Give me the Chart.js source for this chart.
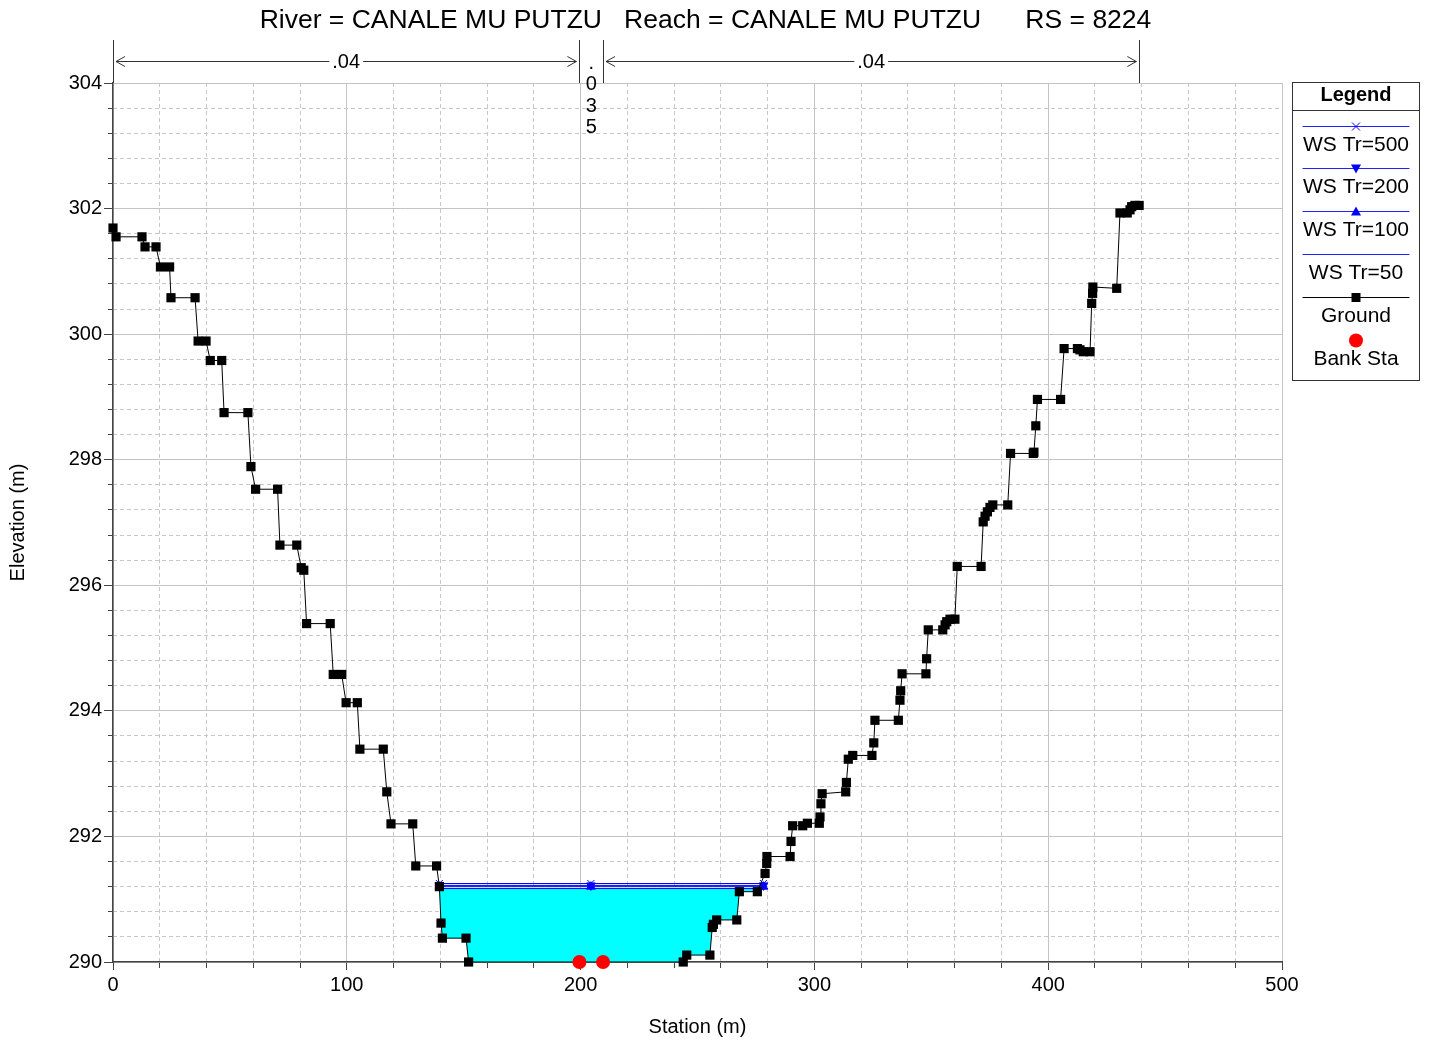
<!DOCTYPE html>
<html lang="en">
<head>
  <meta charset="UTF-8">
  <title>Cross Section RS 8224</title>
  <script src="https://cdn.jsdelivr.net/npm/chart.js"></script>
  <style>
    html, body { margin: 0; padding: 0; background: #fff; }
    .chart-container { width: 1430px; height: 1040px; position: relative; }
  </style>
</head>
<body>
  <div class="chart-container">
    <canvas id="xsChart"></canvas>
  </div>
  <script>
    const titleText = 'River = CANALE MU PUTZU   Reach = CANALE MU PUTZU      RS = 8224';

    // ground profile (station m, elevation m)
    const groundStation = [
      0, 1.3, 12.4, 13.7, 18.4, 20.3, 24.2, 24.8, 35.1, 36.4, 39.8, 41.6, 46.5, 47.5, 57.7,
      59.0, 61.0, 70.4, 71.4, 78.6, 80.5, 81.6, 82.8, 92.9, 94.2, 97.8, 99.7, 104.5, 105.6, 115.6,
      117.1, 118.9, 128.2, 129.5, 138.4, 139.6, 140.3, 140.9, 151.0, 152.1, 243.9, 245.4, 255.3, 256.3, 256.8,
      258.2, 266.8, 267.9, 275.6, 278.9, 279.6, 279.7, 289.6, 290.0, 290.7, 295.0, 297.0, 302.1, 302.4, 302.8,
      303.3, 313.4, 313.7, 314.5, 316.4, 324.6, 325.4, 325.9, 335.9, 336.6, 336.9, 337.5, 347.7, 348.0, 348.7,
      354.9, 355.9, 356.6, 358.0, 360.1, 361.1, 371.3, 372.2, 373.0, 374.0, 375.1, 376.3, 382.7, 383.9, 393.6,
      393.9, 394.7, 395.4, 405.3, 406.8, 412.5, 413.6, 415.0, 417.9, 418.6, 419.0, 419.1, 429.3, 430.7, 433.8,
      435.0, 435.7, 437.1, 438.9
    ];
    const groundElevation = [
      301.69, 301.55, 301.55, 301.39, 301.39, 301.07, 301.07, 300.58, 300.58, 299.89, 299.89, 299.58, 299.58, 298.75, 298.75,
      297.89, 297.53, 297.53, 296.64, 296.64, 296.28, 296.24, 295.39, 295.39, 294.58, 294.58, 294.13, 294.13, 293.39, 293.39,
      292.71, 292.20, 292.20, 291.53, 291.53, 291.20, 290.62, 290.38, 290.38, 290.00, 290.00, 290.11, 290.11, 290.55, 290.60,
      290.67, 290.67, 291.12, 291.12, 291.41, 291.57, 291.68, 291.68, 291.92, 292.17, 292.17, 292.21, 292.21, 292.31, 292.52,
      292.68, 292.71, 292.86, 293.23, 293.29, 293.29, 293.49, 293.85, 293.85, 294.17, 294.32, 294.59, 294.59, 294.83, 295.29,
      295.29, 295.37, 295.42, 295.46, 295.46, 296.30, 296.30, 297.01, 297.10, 297.17, 297.24, 297.28, 297.28, 298.10, 298.10,
      298.12, 298.54, 298.96, 298.96, 299.77, 299.77, 299.75, 299.72, 299.72, 300.49, 300.65, 300.75, 300.73, 301.93, 301.93,
      301.98, 302.03, 302.05, 302.05
    ];

    // water surfaces
    const wsLabels = ['WS Tr=500', 'WS Tr=200', 'WS Tr=100', 'WS Tr=50'];
    const wsElevation = [291.25, 291.22, 291.20, 291.17];
    const wsStation = [139.6, 204.4, 278.2];

    // bank stations
    const bankStation = [199.5, 209.6];
    const bankElevation = [290.0, 290.0];

    // Manning's n breaks along the section
    const nStation = [0, 199.5, 209.6, 439.0];
    const nValue = ['.04', '.035', '.04'];

    const FONT = "'Liberation Sans', Arial, Helvetica, sans-serif";
    Chart.defaults.font.family = FONT;
    Chart.defaults.color = '#000';

    const ground = groundStation.map((s, i) => ({ x: s, y: groundElevation[i] }));

    // wetted area: water edge -> ground below WS Tr=50 -> water edge
    const wsLow = wsElevation[3];
    const water = [{ x: wsStation[0], y: wsLow }];
    groundStation.forEach((s, i) => {
      if (s > wsStation[0] && s < wsStation[2] && groundElevation[i] < wsLow) {
        water.push({ x: s, y: groundElevation[i] });
      }
    });
    water.push({ x: wsStation[2], y: wsLow });

    const wsStyles = [
      { pointStyle: 'crossRot', radius: 5, rotation: 0 },
      { pointStyle: 'triangle', radius: 5, rotation: 180 },
      { pointStyle: 'triangle', radius: 5, rotation: 0 },
      { pointStyle: false, radius: 0, rotation: 0 }
    ];

    const wsDatasets = wsLabels.map((label, k) => ({
      label: label,
      data: wsStation.map(s => ({ x: s, y: wsElevation[k] })),
      borderColor: '#0000ff',
      backgroundColor: '#0000ff',
      borderWidth: 1,
      pointStyle: wsStyles[k].pointStyle,
      pointRadius: wsStyles[k].radius,
      pointRotation: wsStyles[k].rotation,
      pointBorderColor: '#0000ff',
      pointBackgroundColor: '#0000ff',
      pointBorderWidth: 1,
      clip: false,
      order: 2 + k
    }));

    function isMultiple(v, step) {
      const r = v / step;
      return Math.abs(r - Math.round(r)) < 1e-6;
    }

    function drawMarker(ctx, kind, cx, cy) {
      ctx.save();
      ctx.beginPath();
      if (kind === 'cross') {
        ctx.strokeStyle = '#0000ff';
        ctx.moveTo(cx - 4, cy - 4); ctx.lineTo(cx + 4, cy + 4);
        ctx.moveTo(cx + 4, cy - 4); ctx.lineTo(cx - 4, cy + 4);
        ctx.stroke();
      } else if (kind === 'down') {
        ctx.fillStyle = '#0000ff';
        ctx.moveTo(cx - 5, cy - 4); ctx.lineTo(cx + 5, cy - 4); ctx.lineTo(cx, cy + 5);
        ctx.closePath(); ctx.fill();
      } else if (kind === 'up') {
        ctx.fillStyle = '#0000ff';
        ctx.moveTo(cx - 5, cy + 4); ctx.lineTo(cx + 5, cy + 4); ctx.lineTo(cx, cy - 5);
        ctx.closePath(); ctx.fill();
      } else if (kind === 'square') {
        ctx.fillStyle = '#000';
        ctx.fillRect(cx - 4.5, cy - 4.5, 9, 9);
      } else if (kind === 'circle') {
        ctx.fillStyle = '#ff0000';
        ctx.arc(cx, cy, 7, 0, Math.PI * 2);
        ctx.fill();
      }
      ctx.restore();
    }

    const decorations = {
      id: 'decorations',
      afterDraw(chart) {
        const { ctx, chartArea: a } = chart;
        const x = chart.scales.x;
        ctx.save();

        // title
        ctx.fillStyle = '#000';
        ctx.font = '26.5px ' + FONT;
        ctx.textAlign = 'center';
        ctx.textBaseline = 'middle';
        ctx.fillText(titleText, (a.left + a.right) / 2 + 8, 21);

        // Manning's n bands above the plot
        const topY = 40, arrowY = 61.5;
        ctx.strokeStyle = '#333';
        ctx.lineWidth = 1;
        nStation.forEach(s => {
          const px = Math.round(x.getPixelForValue(s)) + 0.5;
          ctx.beginPath(); ctx.moveTo(px, topY); ctx.lineTo(px, a.top); ctx.stroke();
        });
        ctx.font = '20px ' + FONT;
        for (let i = 0; i < nValue.length; i++) {
          const x0 = x.getPixelForValue(nStation[i]) + 3;
          const x1 = x.getPixelForValue(nStation[i + 1]) - 3;
          const w = ctx.measureText(nValue[i]).width;
          const mid = (x0 + x1) / 2;
          if (x1 - x0 > w + 40) {
            ctx.beginPath();
            ctx.moveTo(x0, arrowY); ctx.lineTo(mid - w / 2 - 3, arrowY);
            ctx.moveTo(mid + w / 2 + 3, arrowY); ctx.lineTo(x1, arrowY);
            ctx.moveTo(x0 + 9, arrowY - 5); ctx.lineTo(x0, arrowY); ctx.lineTo(x0 + 9, arrowY + 5);
            ctx.moveTo(x1 - 9, arrowY - 5); ctx.lineTo(x1, arrowY); ctx.lineTo(x1 - 9, arrowY + 5);
            ctx.stroke();
            ctx.fillText(nValue[i], mid, arrowY + 1);
          } else {
            const chars = nValue[i].split('');
            chars.forEach((c, j) => ctx.fillText(c, mid, 63 + j * 21.5));
          }
        }

        // legend box
        const bx = a.right + 10.5, by = 82.5, bw = 127, bh = 298;
        const cx = bx + bw / 2;
        ctx.fillStyle = '#fff';
        ctx.fillRect(bx, by, bw, bh);
        ctx.strokeStyle = '#333';
        ctx.strokeRect(bx, by, bw, bh);
        ctx.beginPath(); ctx.moveTo(bx, by + 28); ctx.lineTo(bx + bw, by + 28); ctx.stroke();
        ctx.fillStyle = '#000';
        ctx.font = 'bold 20px ' + FONT;
        ctx.fillText('Legend', cx, by + 13);

        const items = [
          { label: wsLabels[0], color: '#2020ff', marker: 'cross' },
          { label: wsLabels[1], color: '#2020ff', marker: 'down' },
          { label: wsLabels[2], color: '#2020ff', marker: 'up' },
          { label: wsLabels[3], color: '#2020ff', marker: null },
          { label: 'Ground', color: '#000', marker: 'square' },
          { label: 'Bank Sta', color: null, marker: 'circle' }
        ];
        ctx.font = '21px ' + FONT;
        items.forEach((it, k) => {
          const ly = Math.round(by + 43 + k * 42.8) + 0.5;
          if (it.color) {
            ctx.strokeStyle = it.color;
            ctx.beginPath(); ctx.moveTo(bx + 10, ly); ctx.lineTo(bx + bw - 10, ly); ctx.stroke();
          }
          if (it.marker) drawMarker(ctx, it.marker, cx, ly);
          ctx.fillStyle = '#000';
          ctx.fillText(it.label, cx, ly + 19);
        });
        ctx.restore();
      }
    };

    const ctx = document.getElementById('xsChart').getContext('2d');
    new Chart(ctx, {
      type: 'line',
      data: {
        datasets: [
          {
            label: 'Bank Sta',
            data: bankStation.map((s, i) => ({ x: s, y: bankElevation[i] })),
            showLine: false,
            pointStyle: 'circle',
            pointRadius: 7,
            pointBackgroundColor: '#ff0000',
            pointBorderWidth: 0,
            clip: false,
            order: 0
          },
          {
            label: 'Ground',
            data: ground,
            borderColor: '#000',
            borderWidth: 1,
            pointStyle: 'rect',
            pointRadius: 6.5,
            pointBackgroundColor: '#000',
            pointBorderColor: '#000',
            pointBorderWidth: 0,
            clip: false,
            order: 1
          },
          ...wsDatasets,
          {
            label: 'water',
            data: water,
            borderWidth: 0,
            pointRadius: 0,
            backgroundColor: '#00ffff',
            fill: 'shape',
            order: 10
          }
        ]
      },
      options: {
        responsive: true,
        maintainAspectRatio: false,
        animation: false,
        events: [],
        layout: { padding: { top: 83, right: 148, left: 0, bottom: 0 } },
        plugins: {
          legend: { display: false },
          tooltip: { enabled: false }
        },
        scales: {
          x2: {
            type: 'linear', position: 'bottom', weight: 0,
            min: 0, max: 500,
            ticks: { display: false, stepSize: 20, maxTicksLimit: 100 },
            grid: {
              color: c => (c.tick && isMultiple(c.tick.value, 100)) ? 'rgba(0,0,0,0)' : '#c8c8c8',
              tickColor: '#444', tickLength: 6
            },
            border: { display: false, dash: [4, 3] },
            afterFit: s => { s.height = 0; }
          },
          x: {
            type: 'linear', position: 'bottom', weight: 1,
            min: 0, max: 500,
            ticks: { stepSize: 100, font: { size: 20 }, padding: 3, maxRotation: 0 },
            grid: { color: '#c4c4c4', tickColor: '#444', tickLength: 8 },
            border: { color: '#444', width: 1.5 },
            title: { display: true, text: 'Station (m)', font: { size: 20 }, padding: { top: 0, bottom: 1 } },
            afterFit: s => { s.height = 78; }
          },
          y2: {
            type: 'linear', position: 'left', weight: 0,
            min: 290, max: 304,
            ticks: { display: false, stepSize: 0.4, maxTicksLimit: 100 },
            grid: {
              color: c => (c.tick && isMultiple(c.tick.value, 2)) ? 'rgba(0,0,0,0)' : '#c8c8c8',
              tickColor: '#444', tickLength: 5
            },
            border: { display: false, dash: [4, 3] },
            afterFit: s => { s.width = 0; }
          },
          y: {
            type: 'linear', position: 'left', weight: 1,
            min: 290, max: 304,
            ticks: { stepSize: 2, font: { size: 20 }, padding: 2 },
            grid: { color: '#c4c4c4', tickColor: '#444', tickLength: 9 },
            border: { color: '#444', width: 1.5 },
            title: { display: true, text: 'Elevation (m)', font: { size: 20 }, padding: { top: 6, bottom: 0 } },
            afterFit: s => { s.width = 113; }
          }
        }
      },
      plugins: [decorations]
    });
  </script>
</body>
</html>
